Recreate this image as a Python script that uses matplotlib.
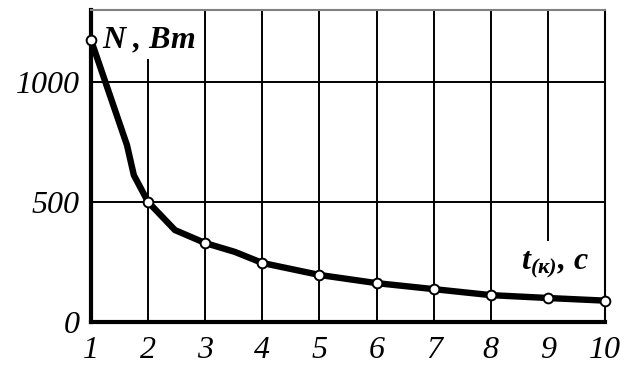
import numpy as np
import matplotlib.pyplot as plt

# узловые точки (маркеры)
t_pts = [1, 2, 3, 4, 5, 6, 7, 8, 9, 10]
n_pts = [1175, 500, 329, 246, 196, 162, 137, 112, 100, 89]

# линия кривой (с промежуточными изломами)
t_line = [1, 1.63, 1.75, 2, 2.47, 3, 3.52, 4, 5, 6, 7, 8, 9, 10]
n_line = [1175, 737, 612, 500, 383, 329, 292, 246, 196, 162, 137, 112, 100, 89]

x_ticks = [1, 2, 3, 4, 5, 6, 7, 8, 9, 10]
y_ticks = [0, 500, 1000]

plt.rcParams['font.family'] = ['Liberation Serif', 'DejaVu Serif']
plt.rcParams['mathtext.fontset'] = 'custom'
plt.rcParams['mathtext.rm'] = 'Liberation Serif'
plt.rcParams['mathtext.it'] = 'Liberation Serif:italic'
plt.rcParams['mathtext.bf'] = 'Liberation Serif:italic:bold'

fig = plt.figure(figsize=(6.35, 3.72), dpi=100)
ax = fig.add_axes([0.1433, 0.1344, 0.8095, 0.8387])
ax.set_xlim(1, 10)
ax.set_ylim(0, 1300)

# сетка
for x in range(3, 9):
    ax.plot([x, x], [0, 1300], color='black', lw=1.4, zorder=1)
ax.plot([2, 2], [0, 1092], color='black', lw=1.4, zorder=1)
ax.plot([9, 9], [342, 1300], color='black', lw=1.4, zorder=1)
for y in [500, 1000]:
    ax.plot([1, 10], [y, y], color='black', lw=1.4, zorder=1)

ax.plot(t_line, n_line, color='black', lw=4.6, solid_joinstyle='round', zorder=3)
ax.plot(t_pts, n_pts, 'o', ms=7, mfc='white', mec='black', mew=1.4, zorder=4,
        clip_on=False)

ax.spines['left'].set_linewidth(3)
ax.spines['bottom'].set_linewidth(3)
ax.spines['right'].set_linewidth(1.5)
ax.spines['top'].set_linewidth(1.5)
ax.spines['top'].set_color('#808080')

ax.set_xticks(x_ticks)
ax.set_yticks(y_ticks)
ax.set_xticklabels([str(v) for v in x_ticks], fontsize=23, style='italic')
ax.set_yticklabels([str(v) for v in y_ticks], fontsize=23, style='italic')
ax.tick_params(length=0)
ax.tick_params(axis='x', pad=10)
ax.tick_params(axis='y', pad=8)

ax.text(1.2, 1175, 'N , Вт', fontsize=23, fontweight='bold', style='italic',
        ha='left', va='center', zorder=5)
ax.text(9.12, 237, r'$\mathbf{t}_{\mathbf{(к)}}$, с', fontsize=23,
        fontweight='bold', style='italic', ha='center', va='center', zorder=5)

fig.savefig('out.png', dpi=100)
